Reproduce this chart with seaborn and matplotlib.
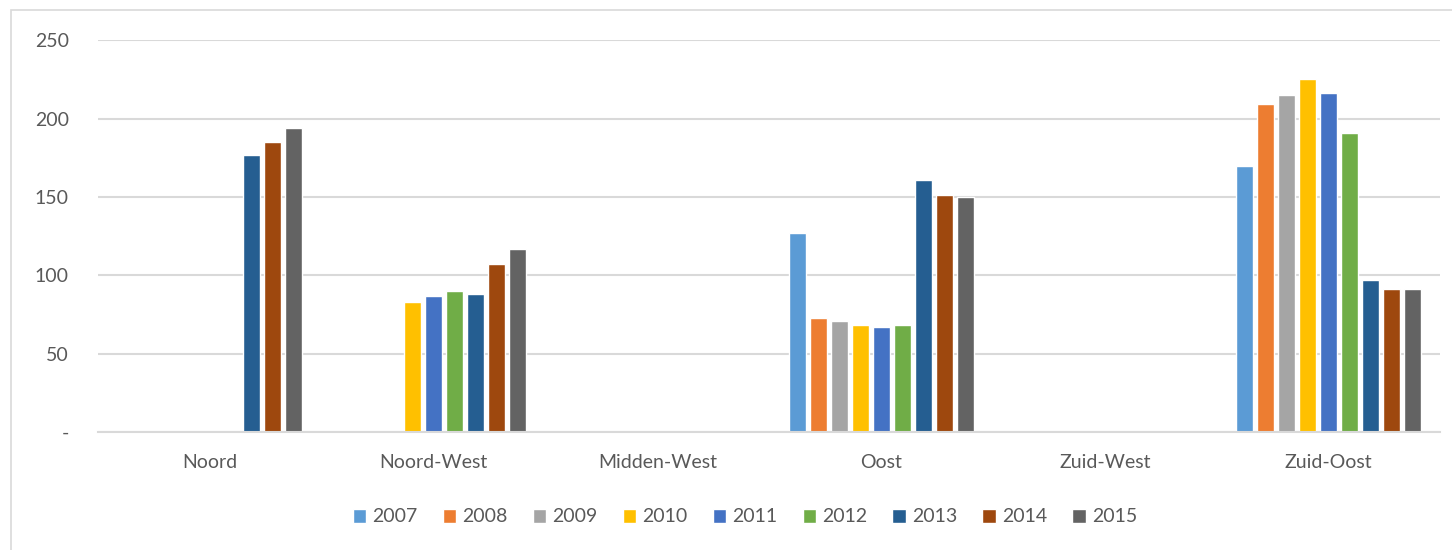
import numpy as np
import pandas as pd
import matplotlib
matplotlib.use("Agg")
import matplotlib.pyplot as plt
import seaborn as sns
from matplotlib.patches import Rectangle

# ==================== data ====================
regions = ["Noord", "Noord-West", "Midden-West", "Oost", "Zuid-West", "Zuid-Oost"]
years = ["2007", "2008", "2009", "2010", "2011", "2012", "2013", "2014", "2015"]
nan = np.nan
noord      = [nan, nan, nan, nan, nan, nan, 177, 185, 194]
noord_west = [nan, nan, nan, 83, 87, 90, 88, 107, 117]
midden_west = [nan] * 9
oost       = [127, 73, 71, 68, 67, 68, 161, 151, 150]
zuid_west  = [nan] * 9
zuid_oost  = [170, 209, 215, 225, 216, 191, 97, 91, 91]

colors = ["#5B9BD5", "#ED7D31", "#A5A5A5", "#FFC000", "#4472C4",
          "#70AD47", "#255E91", "#9E480E", "#636363"]

rows = []
for reg, vals in zip(regions, [noord, noord_west, midden_west, oost, zuid_west, zuid_oost]):
    for yr, v in zip(years, vals):
        rows.append({"region": reg, "year": yr, "value": v})
df = pd.DataFrame(rows)

# ==================== style ====================
sns.set_style("white")
plt.rcParams['font.family'] = ['Lato', 'DejaVu Sans']
TXT = "#595959"
GRID = "#D9D9D9"
FS = 14

fig = plt.figure(figsize=(14.52, 5.5), dpi=100)
ax = fig.add_axes([0.0675, 0.2145, 0.9245, 0.7125])

sns.barplot(data=df, x="region", y="value", hue="year", order=regions,
            hue_order=years, palette=colors, width=0.845, gap=0.19,
            ax=ax, legend=True, saturation=1, errorbar=None)

ax.set_ylim(0, 250)
ax.set_xlim(-0.5, len(regions) - 0.5)
ax.set_yticks([0, 50, 100, 150, 200, 250])
ax.set_yticklabels(["-", "50", "100", "150", "200", "250"])
ax.yaxis.grid(True, color=GRID, linewidth=1.5)
ax.set_axisbelow(True)
for s in ["top", "right", "left"]:
    ax.spines[s].set_visible(False)
ax.spines["bottom"].set_color(GRID)
ax.spines["bottom"].set_linewidth(1.5)
ax.tick_params(axis="y", length=0, pad=21, labelsize=FS, labelcolor=TXT)
ax.tick_params(axis="x", length=0, pad=16, labelsize=FS, labelcolor=TXT)
ax.set_xlabel("")
ax.set_ylabel("")

handles, labels = ax.get_legend_handles_labels()
ax.get_legend().remove()
fig.legend(handles, labels, loc="center", bbox_to_anchor=(0.513, 0.06), ncol=9,
           frameon=False, handlelength=0.7, handleheight=0.7, handletextpad=0.3,
           columnspacing=1.3, prop={"size": FS}, labelcolor=TXT)

# chart border
fig.patches.append(Rectangle((0.0075, -0.01), 1.1, 0.992, transform=fig.transFigure,
                             fill=False, edgecolor=GRID, linewidth=1.2))

fig.savefig("out.png", dpi=100)
